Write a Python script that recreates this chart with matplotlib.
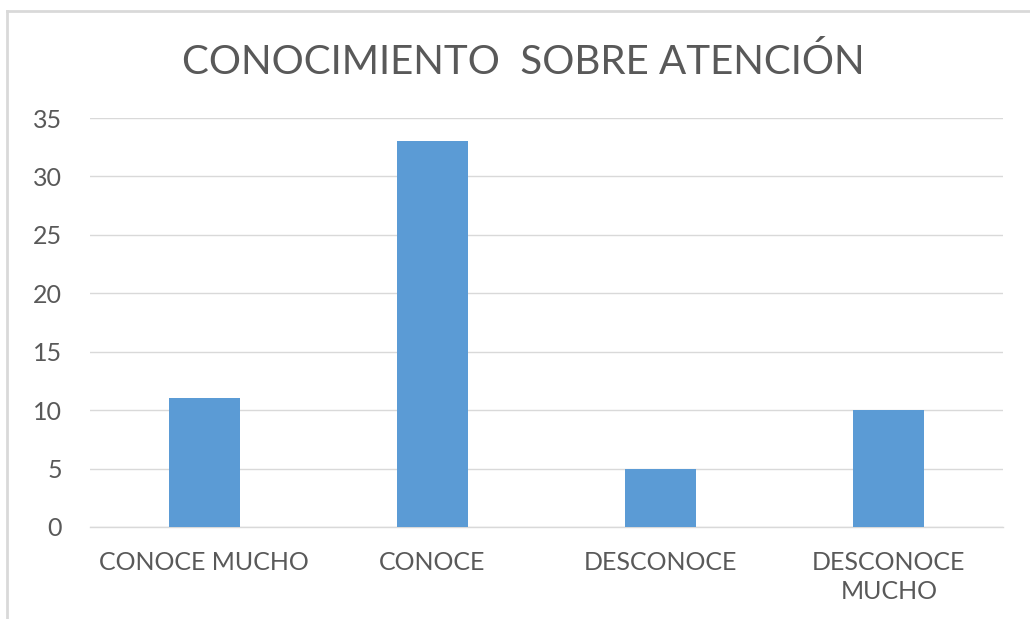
import matplotlib
matplotlib.use('Agg')
import matplotlib.pyplot as plt
from matplotlib.lines import Line2D

# data
categories = ["CONOCE MUCHO", "CONOCE", "DESCONOCE", "DESCONOCE\nMUCHO"]
values = [11, 33, 5, 10]
y_ticks = [0, 5, 10, 15, 20, 25, 30, 35]

TXT = '#595959'
GRID = '#d9d9d9'
BAR = '#5b9bd5'

plt.rcParams['font.family'] = ['Lato', 'DejaVu Sans']

fig = plt.figure(figsize=(10.3, 6.19), dpi=100)
ax = fig.add_axes([90/1030, 1 - 527/619, (1003 - 90)/1030, (527 - 118)/619])

x = list(range(len(categories)))
ax.bar(x, values, width=0.31, color=BAR, zorder=3)

ax.set_xlim(-0.5, len(categories) - 0.5)
ax.set_ylim(0, 35)
ax.set_yticks(y_ticks)
ax.set_xticks(x)
ax.set_xticklabels(categories, linespacing=1.35)
ax.yaxis.grid(True, color=GRID, linewidth=1, zorder=0)
ax.tick_params(axis='both', length=0, labelsize=18, colors=TXT)
ax.tick_params(axis='y', pad=20)
ax.tick_params(axis='x', pad=17)
for s in ['top', 'right', 'left']:
    ax.spines[s].set_visible(False)
ax.spines['bottom'].set_color(GRID)
ax.spines['bottom'].set_linewidth(1)

fig.text(523/1030, 1 - 62/619, "CONOCIMIENTO  SOBRE ATENCIÓN", ha='center', va='center',
         fontsize=29, color=TXT)

# outer chart border (left and top visible)
fig.add_artist(Line2D([7/1030, 7/1030], [0, 1 - 11/619], transform=fig.transFigure,
                      color=GRID, linewidth=2))
fig.add_artist(Line2D([7/1030, 1], [1 - 11/619, 1 - 11/619], transform=fig.transFigure,
                      color=GRID, linewidth=2))

fig.savefig('out.png', dpi=100, facecolor='white')
